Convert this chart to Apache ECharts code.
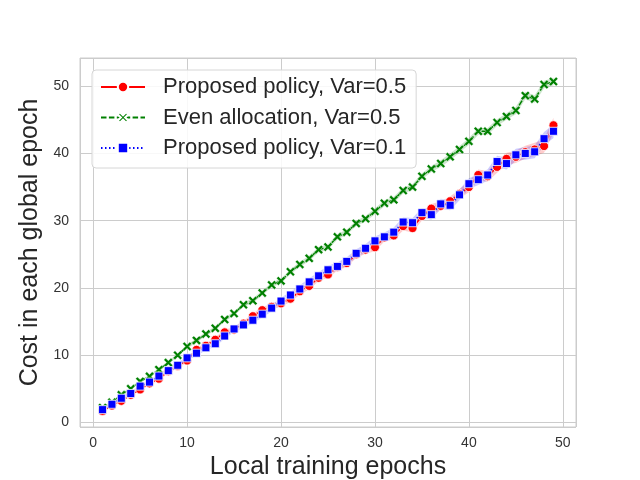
<!DOCTYPE html>
<html>
<head>
<meta charset="utf-8">
<script src="https://cdn.jsdelivr.net/npm/echarts@6/dist/echarts.min.js"></script>
<style>
  html, body { margin: 0; padding: 0; background: #fff; }
  #chart { width: 640px; height: 480px; }
</style>
</head>
<body>
<div id="chart"></div>
<script>
// local training epochs
const epochs = [1, 2, 3, 4, 5, 6, 7, 8, 9, 10, 11, 12, 13, 14, 15, 16, 17, 18, 19, 20,
    21, 22, 23, 24, 25, 26, 27, 28, 29, 30, 31, 32, 33, 34, 35, 36, 37, 38, 39, 40,
    41, 42, 43, 44, 45, 46, 47, 48, 49];

// Proposed policy, Var=0.5
const proposed05 = [1.7, 2.5, 3.2, 4.1, 4.9, 5.8, 6.5, 7.6, 8.4, 9.2, 10.8, 11.4, 12.3, 13.4, 13.8,
    14.7, 15.8, 16.7, 17.2, 17.7, 18.4, 19.5, 20.3, 21.5, 22.0, 23.1, 23.7, 25.0, 25.7, 26.05,
    27.5, 27.8, 29.2, 28.9, 30.7, 31.8, 32.2, 32.9, 34.0, 35.0, 36.8, 36.6, 38.0, 39.2, 39.5,
    40.2, 40.6, 41.1, 44.2];
const proposed05Err = [0.15, 0.15, 0.2, 0.2, 0.2, 0.25, 0.25, 0.3, 0.3, 0.3, 0.35, 0.35, 0.35, 0.4, 0.4,
    0.4, 0.4, 0.45, 0.45, 0.45, 0.5, 0.5, 0.5, 0.5, 0.5, 0.55, 0.55, 0.55, 0.6, 0.6,
    0.6, 0.6, 0.65, 0.65, 0.65, 0.7, 0.7, 0.7, 0.7, 0.75, 0.8, 0.8, 0.85, 0.9, 0.9,
    0.95, 1.0, 1.0, 1.1];

// Even allocation, Var=0.5
const even05 = [2.2, 3.0, 4.1, 5.0, 6.1, 6.85, 7.85, 8.9, 10.0, 11.3, 12.2, 13.15, 14.0, 15.3, 16.2,
    17.5, 18.1, 19.25, 20.45, 21.05, 22.4, 23.5, 24.4, 25.7, 26.1, 27.6, 28.3, 29.6, 30.3, 31.4,
    32.6, 33.1, 34.5, 35.0, 36.6, 37.7, 38.5, 39.5, 40.6, 41.8, 43.3, 43.3, 44.6, 45.5, 46.4,
    48.6, 48.1, 50.25, 50.7];
const even05Err = [0.15, 0.15, 0.2, 0.2, 0.2, 0.2, 0.25, 0.25, 0.25, 0.3, 0.3, 0.3, 0.3, 0.3, 0.3,
    0.35, 0.35, 0.35, 0.35, 0.35, 0.35, 0.4, 0.4, 0.4, 0.4, 0.4, 0.4, 0.4, 0.4, 0.45,
    0.45, 0.45, 0.45, 0.45, 0.45, 0.45, 0.5, 0.5, 0.5, 0.5, 0.5, 0.5, 0.5, 0.5, 0.55,
    0.55, 0.55, 0.55, 0.55];

// Proposed policy, Var=0.1
const proposed01 = [1.9, 2.7, 3.6, 4.3, 5.4, 6.0, 6.9, 7.7, 8.5, 9.6, 10.3, 11.1, 11.7, 12.85, 13.9,
    14.5, 15.2, 16.1, 17.0, 18.05, 18.95, 19.85, 20.9, 21.8, 22.7, 23.2, 23.95, 25.15, 25.9, 27.0,
    27.6, 28.3, 29.8, 29.7, 31.2, 30.9, 32.5, 32.3, 33.85, 35.5, 36.1, 36.8, 38.8, 38.5, 39.8,
    40.0, 40.25, 42.2, 43.3];
const proposed01Err = [0.15, 0.2, 0.2, 0.25, 0.25, 0.3, 0.3, 0.3, 0.35, 0.35, 0.35, 0.4, 0.4, 0.4, 0.45,
    0.45, 0.45, 0.5, 0.5, 0.5, 0.5, 0.55, 0.55, 0.55, 0.6, 0.6, 0.6, 0.6, 0.65, 0.65,
    0.65, 0.7, 0.7, 0.7, 0.7, 0.75, 0.75, 0.75, 0.8, 0.8, 0.8, 0.85, 0.85, 0.9, 0.9,
    0.95, 0.95, 1.0, 1.0];

const FONT = 'Arial, "Liberation Sans", sans-serif';
const X_MARK = 'path://M2,0 L5,3 L8,0 L10,2 L7,5 L10,8 L8,10 L5,7 L2,10 L0,8 L3,5 L0,2 Z';

function pairs(ys) {
    return epochs.map((x, i) => [x, ys[i]]);
}

function band(name, ys, err, color) {
    return {
        name: name,
        type: 'custom',
        silent: true,
        clip: true,
        z: 1,
        data: epochs.map((x, i) => [x, ys[i] - err[i], ys[i] + err[i]]),
        encode: { x: 0, y: [1, 2] },
        renderItem: function (params, api) {
            if (params.dataIndex !== 0) return null;
            let upper = [];
            let lower = [];
            for (let i = 0; i < epochs.length; i++) {
                upper.push(api.coord([epochs[i], ys[i] + err[i]]));
                lower.push(api.coord([epochs[i], ys[i] - err[i]]));
            }
            return {
                type: 'polygon',
                shape: { points: upper.concat(lower.reverse()) },
                style: { fill: color, stroke: null }
            };
        }
    };
}

let chart = echarts.init(document.getElementById('chart'), null, { renderer: 'canvas' });

let option = {
    animation: false,
    backgroundColor: '#ffffff',
    textStyle: { fontFamily: FONT },
    grid: {
        left: 80,
        right: 64,
        top: 58,
        bottom: 53,
        outerBoundsMode: 'none',
        containLabel: false,
        show: true,
        borderColor: '#cccccc',
        borderWidth: 1
    },
    xAxis: {
        type: 'value',
        min: -1.4,
        max: 51.4,
        name: 'Local training epochs',
        nameLocation: 'middle',
        nameGap: 23,
        nameTextStyle: { fontSize: 25, color: '#262626', fontFamily: FONT },
        axisLine: { show: false },
        axisTick: { show: false },
        axisLabel: {
            showMinLabel: false,
            showMaxLabel: false,
            margin: 9,
            fontSize: 14,
            color: '#333333',
            fontFamily: FONT
        },
        splitLine: { show: true, lineStyle: { color: '#cccccc', width: 1 } }
    },
    yAxis: {
        type: 'value',
        min: -0.68,
        max: 54.2,
        name: 'Cost in each global epoch',
        nameLocation: 'middle',
        nameGap: 33,
        nameTextStyle: { fontSize: 25, color: '#262626', fontFamily: FONT },
        axisLine: { show: false },
        axisTick: { show: false },
        axisLabel: {
            showMinLabel: false,
            showMaxLabel: false,
            margin: 11,
            fontSize: 14,
            color: '#333333',
            fontFamily: FONT
        },
        splitLine: { show: true, lineStyle: { color: '#cccccc', width: 1 } }
    },
    legend: {
        orient: 'vertical',
        left: 92,
        top: 70,
        padding: [6, 10, 9, 8],
        itemGap: 8.5,
        itemWidth: 44,
        itemHeight: 13,
        backgroundColor: 'rgba(255,255,255,0.85)',
        borderColor: '#d6d6d6',
        borderWidth: 1,
        borderRadius: 4,
        data: ['Proposed policy, Var=0.5', 'Even allocation, Var=0.5', 'Proposed policy, Var=0.1'],
        textStyle: {
            fontSize: 22,
            lineHeight: 22,
            color: '#262626',
            fontFamily: FONT,
            padding: [0, 0, 0, 13]
        }
    },
    series: [
        band('band-r', proposed05, proposed05Err, 'rgba(255,0,0,0.2)'),
        band('band-g', even05, even05Err, 'rgba(0,128,0,0.2)'),
        band('band-b', proposed01, proposed01Err, 'rgba(0,0,255,0.2)'),
        {
            name: 'Proposed policy, Var=0.5',
            type: 'line',
            z: 3,
            data: pairs(proposed05),
            symbol: 'circle',
            symbolSize: 9,
            lineStyle: { color: '#ff0000', width: 1.5, type: 'solid' },
            itemStyle: { color: '#ff0000', borderColor: '#ffffff', borderWidth: 0.8 }
        },
        {
            name: 'Even allocation, Var=0.5',
            type: 'line',
            z: 3,
            data: pairs(even05),
            symbol: X_MARK,
            symbolSize: 9,
            lineStyle: { color: '#008000', width: 1.5, type: [5.5, 2.4] },
            itemStyle: { color: '#008000', borderColor: '#ffffff', borderWidth: 0.4 }
        },
        {
            name: 'Proposed policy, Var=0.1',
            type: 'line',
            z: 4,
            data: pairs(proposed01),
            symbol: 'rect',
            symbolSize: 8,
            lineStyle: { color: '#0000ff', width: 1.5, type: [1.5, 2.5] },
            itemStyle: { color: '#0000ff', borderColor: '#ffffff', borderWidth: 0.8 }
        }
    ]
};

chart.setOption(option);
</script>
</body>
</html>
